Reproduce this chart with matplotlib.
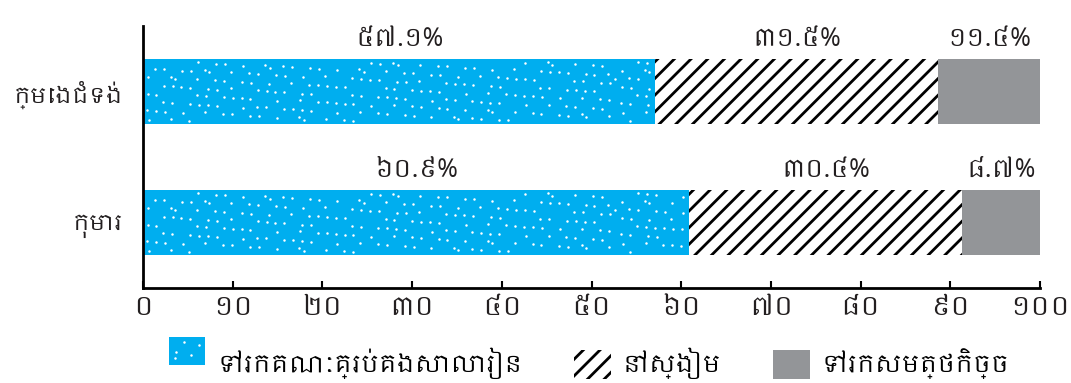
import matplotlib
matplotlib.use('Agg')
import matplotlib.pyplot as plt
import numpy as np
from matplotlib import font_manager
from matplotlib.patches import Patch, Rectangle
from matplotlib.lines import Line2D
from matplotlib.legend_handler import HandlerBase

# data
groups = ['កុមារ', 'ក្មេងជំទង់']
series = ['ទៅរកគណៈគ្រប់គងសាលារៀន', 'នៅស្ងៀម', 'ទៅរកសមត្ថកិច្ច']
values = [
    [60.9, 57.1],   # school management
    [30.4, 31.5],   # stay silent
    [8.7, 11.4],    # authorities
]
value_labels = [
    ['៦០.៩%', '៥៧.១%'],
    ['៣០.៤%', '៣១.៥%'],
    ['៨.៧%', '១១.៤%'],
]
ticks = [0, 10, 20, 30, 40, 50, 60, 70, 80, 90, 100]
tick_labels = ['០', '១០', '២០', '៣០', '៤០', '៥០', '៦០', '៧០', '៨០', '៩០', '១០០']

# look for any font that can draw Khmer
khmer = [f.name for f in font_manager.fontManager.ttflist if 'khmer' in f.name.lower()]
plt.rcParams['font.family'] = khmer[:1] + ['DejaVu Sans']
plt.rcParams['hatch.linewidth'] = 2.0

BLUE = '#00aeef'
GREY = '#939598'
TXT = '#231f20'


def r2_points(n):
    # low-discrepancy sequence, gives an even "speckle" texture
    g = 1.32471795724
    i = np.arange(1, n + 1)
    return (0.37 + i / g) % 1, (0.61 + i / g ** 2) % 1


# one square tile of speckle, reused along the bar (with a shift per tile)
TU, TV = r2_points(260)


def stipple(ax, bar, per_tile=15):
    x0, y0 = bar.get_x(), bar.get_y()
    w, h = bar.get_width(), bar.get_height()
    # width of a square tile in data units
    (px0, py0), (px1, py1) = ax.transData.transform([(0, 0), (1, h)])
    tw = h * (py1 - py0) / (px1 - px0)
    xs, ys = [], []
    k = 0
    x = x0
    while x < x0 + w:
        start = (k * 17) % 240
        sel = slice(start, start + per_tile)
        xs.append(x + TU[sel] * tw)
        ys.append(y0 + 0.02 + TV[sel] * (h - 0.04))
        x += tw
        k += 1
    xs, ys = np.concatenate(xs), np.concatenate(ys)
    keep = (xs > x0 + 0.2) & (xs < x0 + w - 0.2)
    ax.scatter(xs[keep], ys[keep], s=3.2, color='white', linewidths=0, zorder=3)


class HandlerStipple(HandlerBase):
    def create_artists(self, legend, orig, xd, yd, width, height, fontsize, trans):
        r = Rectangle((xd, yd), width, height, facecolor=BLUE, edgecolor='none',
                      transform=trans)
        u, v = r2_points(5)
        dots = Line2D(xd + 2 + u * (width - 4), yd + 2 + v * (height - 4), ls='none',
                      marker='o', ms=1.8, mfc='white', mec='none', transform=trans)
        return [r, dots]


faces = [BLUE, 'white', GREY]
edges = [BLUE, 'black', GREY]
hatches = [None, '//', None]

fig = plt.figure(figsize=(10.71, 3.83), dpi=100)
ax = fig.add_axes([143 / 1071, 1 - 288 / 383, 897 / 1071, 262 / 383])
ax.set_xlim(0, 100)
ax.set_ylim(-0.5, 1.5)

ypos = [0, 1]
left = [0, 0]
for i in range(3):
    bars = ax.barh(ypos, values[i], left=left, height=0.49, color=faces[i],
                   edgecolor=edges[i], hatch=hatches[i], linewidth=0)
    if i == 0:
        for b in bars:
            stipple(ax, b)
    for j in range(2):
        ax.text(left[j] + values[i][j] / 2, ypos[j] + 0.31, value_labels[i][j],
                ha='center', va='bottom', fontsize=18, color=TXT)
    left = [left[j] + values[i][j] for j in range(2)]

ax.set_xticks(ticks)
ax.set_xticklabels(tick_labels, fontsize=19, color=TXT)
ax.set_yticks(ypos)
ax.set_yticklabels(groups, fontsize=16, color=TXT)
ax.tick_params(axis='x', direction='in', length=5, width=1.5, pad=5)
ax.tick_params(axis='y', length=0, pad=14)
for s in ['top', 'right']:
    ax.spines[s].set_visible(False)
ax.spines['left'].set_linewidth(2)
ax.spines['bottom'].set_linewidth(2)

handles = [Patch(facecolor=faces[i], edgecolor=edges[i], hatch=hatches[i], linewidth=0,
                 label=series[i]) for i in range(3)]
fig.legend(handles=handles, loc='lower center', ncol=3, frameon=False,
           fontsize=17, bbox_to_anchor=(0.55, -0.045), handlelength=1.55,
           handleheight=1.5, columnspacing=2.2, handletextpad=0.5,
           handler_map={handles[0]: HandlerStipple()})

fig.savefig('out.png', dpi=100)
